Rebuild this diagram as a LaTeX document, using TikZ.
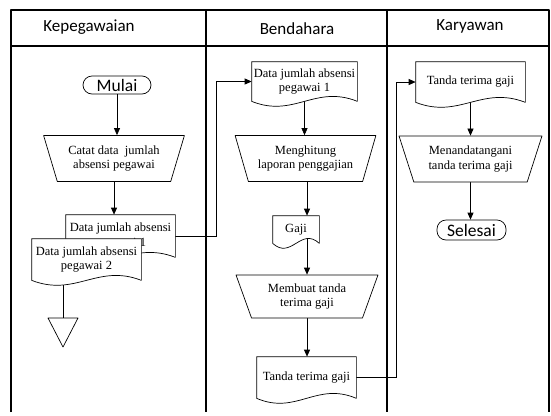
\documentclass[tikz,border=0pt]{standalone}
\usepackage{fontspec}
\setmainfont{Liberation Serif}
\newfontfamily\lanefont{Carlito}
\usetikzlibrary{arrows.meta,calc,shapes.geometric}
\pgfdeclarelayer{background}
\pgfsetlayers{background,main}

\begin{document}
\begin{tikzpicture}[x=1pt,y=-1pt,>={Triangle[length=7pt,width=6pt]},line join=round]
\begin{pgfonlayer}{background}\path[fill=white] (0,0) rectangle (551,412);\end{pgfonlayer}
\tikzset{lane/.style={draw=black,line width=1.1pt},flow/.style={draw=black,line width=0.7pt},head/.style={font=\lanefont\fontsize{17}{18}\selectfont},
 terminal/.style={draw,line width=0.7pt,rounded corners=9pt,minimum width=68pt,minimum height=18pt,inner sep=1pt,font=\lanefont\fontsize{17.5}{18}\selectfont},
 manual/.style={draw,line width=0.7pt,fill=white,trapezium,shape border rotate=180,trapezium left angle=70,trapezium right angle=70,trapezium stretches=true,minimum width=141pt,minimum height=46pt,align=center,font=\fontsize{12.5}{14.5}\selectfont},
 docbox/.style={inner sep=1pt,align=center,font=\fontsize{12.5}{14.5}\selectfont,append after command={(\tikzlastnode.north west) -- (\tikzlastnode.north east) -- (\tikzlastnode.south east) .. controls ($(\tikzlastnode.south west)!0.6!(\tikzlastnode.south east)+(0,17pt)$) and ($(\tikzlastnode.south west)!0.4!(\tikzlastnode.south east)+(0,-17pt)$) .. (\tikzlastnode.south west) -- cycle}},
 docline/.style={draw=black,line width=0.7pt,fill=white}}
\draw[lane] (11,412) -- (11,10) -- (549,10) -- (549,412); \draw[lane] (11,46) -- (549,46); \draw[lane] (206,10) -- (206,412); \draw[lane] (387,10) -- (387,412);
\node[head] (hKep) at (89,27) {Kepegawaian}; \node[head] (hBen) at (297,29) {Bendahara}; \node[head] (hKar) at (470,26) {Karyawan};
\node[terminal] (mulai) at (117,85) {Mulai};
\node[manual] (catat) at (114,158.5) {Catat data \ jumlah\\absensi pegawai};
\path[docline] node[docbox,minimum width=109pt,minimum height=42pt] (kdata1) at (120.5,236) {Data jumlah absensi\\pegawai 1};
\path[docline] node[docbox,minimum width=109pt,minimum height=41pt] (kdata2) at (86.5,259.5) {Data jumlah absensi\\pegawai 2};
\coordinate (tri) at (63,318); \draw[flow] (tri) -- ++(15,0) -- ++(-15,29) -- ++(-15,-29) -- cycle;
\path[docline] node[docbox,minimum width=105pt,minimum height=39pt] (bdata1) at (304.5,81.5) {Data jumlah absensi\\pegawai 1};
\node[manual] (hitung) at (305.5,158.5) {Menghitung\\laporan penggajian};
\path[docline] node[docbox,minimum width=46pt,minimum height=27pt] (gaji) at (296,229.5) {Gaji};
\node[manual,minimum height=43pt,minimum width=142pt] (buat) at (307,296.5) {Membuat tanda\\terima gaji};
\path[docline] node[docbox,minimum width=99pt,minimum height=41pt] (bttg) at (306.5,377.5) {Tanda terima gaji};
\path[docline] node[docbox,minimum width=109pt,minimum height=40pt] (ktg) at (470.5,82) {Tanda terima gaji};
\node[manual,minimum width=143pt] (ttd) at (470.5,159) {Menandatangani\\tanda terima gaji};
\node[terminal,minimum height=20pt,minimum width=69pt] (selesai) at (471.5,230) {Selesai};
\coordinate (k2b) at (216,0); \coordinate (b2k) at (396,0);
\begin{pgfonlayer}{background}
\draw[flow,->] (mulai) -- (mulai |- catat.north);
\draw[flow,->] (catat.south) -- (catat.south |- kdata1.north);
\draw[flow] (kdata2.center -| tri) -- (tri);
\draw[flow,->] (kdata1.east) -- (kdata1.east -| k2b) -- (k2b |- bdata1.west) -- (bdata1.west);
\draw[flow,->] (bdata1.center) -- (bdata1.center |- hitung.north);
\draw[flow,->] (hitung.south -| buat.north) -- (buat.north |- gaji.north);
\draw[flow,->] (buat.north |- gaji.center) -- (buat.north);
\draw[flow,->] (buat.south) -- (buat.south |- bttg.north);
\draw[flow,->] (bttg.east) -- (bttg.east -| b2k) -- (b2k |- ktg.west) -- (ktg.west);
\draw[flow,->] (ktg.center) -- (ktg.center |- ttd.north);
\draw[flow,->] (ttd.south) -- (ttd.south |- selesai.north);
\end{pgfonlayer}
\end{tikzpicture}
\end{document}
